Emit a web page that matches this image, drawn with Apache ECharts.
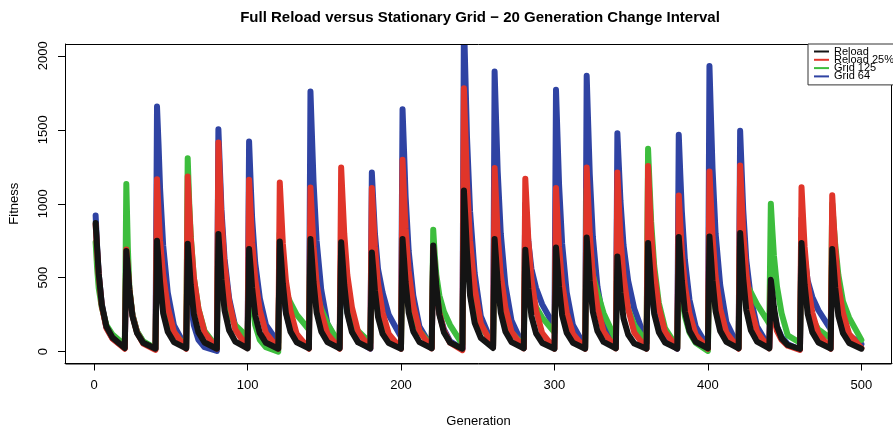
<!DOCTYPE html>
<html>
<head>
<meta charset="utf-8">
<script src="https://cdn.jsdelivr.net/npm/echarts@6/dist/echarts.min.js"></script>
<style>
html,body{margin:0;padding:0;background:#fff;}
#chart{width:893px;height:427px;}
</style>
</head>
<body>
<div id="chart"></div>
<script>
// Generation at which each 20-generation change cycle starts (spike)
const cycleStarts = [1,21,41,61,81,101,121,141,161,181,201,221,241,261,281,301,321,341,361,381,401,421,441,461,481];
// Sampled generations within each cycle (offset from cycle start)
const cycleOffsets = [0,1,2,4,7,11,19];

// Fitness values per cycle, at the sampled offsets
const reload = [
 [870,700,530,320,170,95,25],[680,560,420,240,125,60,20],[750,620,470,260,135,65,22],[730,600,450,255,130,62,20],
 [795,650,490,280,145,68,22],[694,570,430,245,125,60,20],[745,610,460,260,135,64,22],[761,620,470,265,137,65,22],
 [739,605,455,260,133,63,22],[671,550,415,235,120,58,20],[761,620,470,265,137,65,22],[718,590,445,250,130,61,20],
 [1090,890,675,380,195,93,25],[761,620,470,265,137,65,22],[689,565,425,240,124,59,20],[705,578,437,247,127,60,20],
 [772,633,478,270,139,66,22],[644,528,400,225,116,55,20],[734,602,455,257,132,62,21],[775,635,480,271,140,66,22],
 [779,639,483,273,140,66,22],[802,658,497,281,144,68,22],[486,400,300,170,90,45,18],[734,602,455,257,132,62,21],
 [694,569,430,243,125,59,20]
];
const reload25 = [
 [860,680,520,310,160,88,20],[690,560,420,245,130,55,12],[1166,950,750,520,300,135,20],[1184,970,770,500,290,130,20],
 [1414,1160,900,590,340,150,25],[1162,950,740,490,280,125,20],[1144,940,730,480,275,120,20],[1110,910,710,465,265,120,20],
 [1245,1020,800,520,300,135,22],[1106,905,710,465,265,120,20],[1297,1060,830,545,310,140,22],[700,560,420,260,140,60,10],
 [1781,1460,1140,750,430,190,30],[1241,1020,795,520,300,135,22],[1169,960,750,490,280,125,20],[1106,905,710,465,265,120,20],
 [1245,1020,800,520,300,135,22],[1211,990,775,510,290,130,20],[1256,1030,805,530,300,135,22],[1056,865,675,445,255,115,20],
 [1218,1000,780,510,290,130,20],[1259,1030,805,530,300,135,22],[450,320,230,140,80,40,12],[1112,910,710,465,265,120,20],
 [1058,870,690,450,260,120,25]
];
const grid125 = [
 [740,560,430,300,180,115,45],[1133,700,430,250,135,70,22],[850,700,560,380,230,130,30],[1308,1000,780,500,290,140,30],
 [1000,800,620,420,260,180,100],[600,450,330,180,80,30,0],[800,640,520,400,330,250,150],[850,700,560,400,290,190,50],
 [700,570,450,320,210,140,60],[650,520,400,270,160,90,30],[800,650,520,370,250,140,40],[824,650,520,380,270,180,50],
 [1000,820,650,450,320,180,40],[700,580,460,330,220,130,40],[850,700,560,400,300,230,130],[700,560,430,290,180,100,30],
 [1100,900,720,520,400,260,80],[900,740,600,420,290,180,60],[1371,1120,880,580,330,160,30],[650,500,380,240,130,60,5],
 [700,560,430,290,170,90,30],[900,740,600,460,400,320,190],[1000,820,650,440,260,110,60],[800,640,500,330,220,150,90],
 [1000,850,720,520,340,230,80]
];
const grid64 = [
 [920,700,530,320,165,90,25],[640,520,400,250,135,65,20],[1657,1400,1100,720,400,180,25],[600,440,320,180,80,30,5],
 [1504,1230,960,630,360,170,30],[1421,1150,900,600,360,180,60],[700,560,420,270,150,80,30],[1759,1450,1150,750,420,190,30],
 [700,560,420,270,150,70,20],[1211,1000,800,560,400,250,100],[1639,1350,1050,680,380,170,30],[650,520,400,260,150,70,20],
 [2250,1850,1450,950,530,240,40],[1894,1550,1220,800,450,210,30],[1000,860,740,560,430,320,170],[1770,1450,1130,730,400,180,30],
 [1865,1530,1200,780,440,200,30],[1477,1250,1020,720,480,290,60],[700,560,430,280,160,80,20],[1466,1200,950,620,350,170,30],
 [1932,1580,1240,800,450,200,30],[1493,1220,960,620,360,170,30],[480,360,270,170,100,50,15],[900,760,640,480,370,280,150],
 [700,580,460,320,200,110,50]
];

const xTicks = [0,100,200,300,400,500];
const yTicks = [0,500,1000,1500,2000];
const seriesNames = ['Reload','Reload 25%','Grid 125','Grid 64'];

function toPoints(cycles){
  const pts = [];
  cycles.forEach((vals, c) => {
    vals.forEach((v, k) => pts.push([cycleStarts[c] + cycleOffsets[k], v]));
  });
  return pts;
}

const colors = {
  'Reload': '#141414',
  'Reload 25%': '#e0352a',
  'Grid 125': '#3dbd3d',
  'Grid 64': '#2f43a3'
};
const dataByName = {
  'Reload': reload,
  'Reload 25%': reload25,
  'Grid 125': grid125,
  'Grid 64': grid64
};
// draw order: blue, green, red, black on top
const drawOrder = ['Grid 64','Grid 125','Reload 25%','Reload'];

const FONT = 'Liberation Sans, Arial, Helvetica, sans-serif';
const GRID = {left: 65, right: 1, top: 44, bottom: 63.5};
const chart = echarts.init(document.getElementById('chart'), null, {renderer:'canvas'});
chart.setOption({
  animation: false,
  backgroundColor: '#ffffff',
  title: {
    text: 'Full Reload versus Stationary Grid \u2212 20 Generation Change Interval',
    left: 475, top: 5, textAlign: 'center',
    textStyle: {fontFamily: FONT, fontSize: 15, fontWeight: 'bold', color: '#000'}
  },
  grid: {left: GRID.left, right: GRID.right, top: GRID.top, bottom: GRID.bottom, show: false,
         containLabel: false, outerBoundsMode: 'none'},
  legend: {
    orient: 'vertical', left: 808, top: 44,
    data: seriesNames,
    icon: 'rect', itemWidth: 15, itemHeight: 2,
    itemGap: -2.7,
    padding: [2, 4, 3, 6],
    borderColor: '#333', borderWidth: 1, backgroundColor: '#fff',
    textStyle: {fontFamily: FONT, fontSize: 11, color: '#000'},
    selectedMode: false,
    z: 60
  },
  graphic: [
    // mask above plot region so marks are clipped at the box like the original
    {type: 'rect', z: 50, silent: true, shape: {x: GRID.left + 1, y: 28, width: 893 - GRID.left - 1, height: GRID.top - 28}, style: {fill: '#fff'}},
    // plot box
    {type: 'rect', z: 55, silent: true,
     shape: {x: GRID.left + 0.5, y: GRID.top + 0.5, width: 893 - GRID.right - GRID.left - 1, height: 427 - GRID.bottom - GRID.top},
     style: {fill: 'none', stroke: '#000', lineWidth: 1}}
  ],
  xAxis: {
    type: 'value', min: -18.96, max: 519.96,
    name: 'Generation', nameLocation: 'middle', nameGap: 51,
    nameTextStyle: {fontFamily: FONT, fontSize: 13, color: '#000'},
    axisLine: {show: true, onZero: false, lineStyle: {color: '#000', width: 1}},
    splitLine: {show: false},
    axisTick: {show: true, inside: false, length: 7, customValues: xTicks, lineStyle: {color: '#000', width: 1}},
    axisLabel: {show: true, margin: 15, customValues: xTicks, fontFamily: FONT, fontSize: 13, color: '#000',
                formatter: v => String(v)}
  },
  yAxis: {
    type: 'value', min: -80, max: 2080,
    name: 'Fitness', nameLocation: 'middle', nameGap: 44, nameRotate: 90,
    nameTextStyle: {fontFamily: FONT, fontSize: 13, color: '#000'},
    axisLine: {show: true, onZero: false, lineStyle: {color: '#000', width: 1}},
    splitLine: {show: false},
    axisTick: {show: true, inside: false, length: 7, customValues: yTicks, lineStyle: {color: '#000', width: 1}},
    axisLabel: {show: true, margin: 15, rotate: 90, customValues: yTicks, fontFamily: FONT, fontSize: 13, color: '#000',
                formatter: v => String(v)}
  },
  series: drawOrder.map(name => ({
    name: name,
    type: 'line',
    data: toPoints(dataByName[name]),
    showSymbol: false,
    symbol: 'none',
    clip: true,
    color: colors[name],
    lineStyle: {color: colors[name], width: 6, cap: 'round', join: 'round'},
    emphasis: {disabled: true}
  }))
});
</script>
</body>
</html>
